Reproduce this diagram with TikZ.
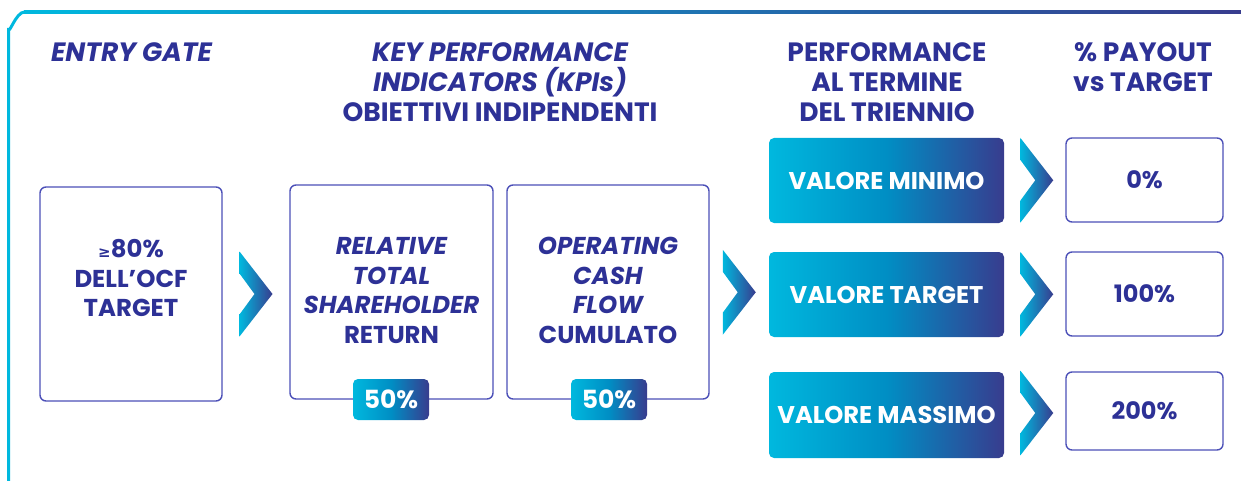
\documentclass[tikz,border=0pt]{standalone}
\usepackage{fontspec}
\setmainfont{Poppins}[UprightFont={* Bold}, ItalicFont={* Bold Italic}]
\newfontfamily\symf{DejaVu Sans}[UprightFont={* Bold}]
\usetikzlibrary{calc}
\definecolor{txt}{RGB}{45,49,150}
\definecolor{cyanF}{RGB}{0,184,222}
\definecolor{midF}{RGB}{0,142,196}
\definecolor{darkF}{RGB}{56,60,142}
\definecolor{brd}{RGB}{76,80,184}
\tikzset{
  box/.style={draw=brd, line width=1.4pt, rounded corners=6pt, fill=white, inner sep=0pt},
  gbox/.style={rounded corners=5pt, left color=cyanF, right color=darkF, middle color=midF,
               inner sep=0pt, text=white, font=\fontsize{24.2}{29}\selectfont},
  badge/.style={rounded corners=5pt, left color=cyanF, right color=darkF, middle color=midF,
               inner sep=0pt, text=white, font=\fontsize{25}{29}\selectfont,
               minimum width=76pt, minimum height=41pt},
  hdr/.style={text=txt, align=center, font=\fontsize{26.5}{30}\selectfont},
  btxt/.style={text=txt, align=center, font=\fontsize{24.4}{29.5}\selectfont},
  chevshade/.style={left color=cyanF, right color=darkF},
}
\newcommand\chevat[1]{%
  \begin{scope}[shift={#1}]
    \shade[chevshade] (-16.5,-42.5) -- ++(33,42.5) -- ++(-33,42.5) -- ++(0,-22)
      -- ++(15,-20.5) -- ++(-15,-20.5) -- cycle;
  \end{scope}}
\begin{document}
\begin{tikzpicture}[x=1pt, y=-1pt]
\useasboundingbox (0,0) rectangle (1241,481);
% outer frame
\draw[cyanF, line width=3pt] (8.5,484) -- (8.5,28) to[out=-90, in=180] (24.5,12);
\shade[left color=cyanF, right color=darkF] (24,10.5) rectangle (1241,13.5);
% headers
\node[hdr] (h1) at (131.5,52) {\itshape ENTRY GATE};
\node[hdr] (h2) at (500,82) {\itshape KEY PERFORMANCE\\\itshape INDICATORS (KPIs)\\OBIETTIVI INDIPENDENTI};
\node[hdr] (h3) at (887,82) {PERFORMANCE\\AL TERMINE\\DEL TRIENNIO};
\node[hdr] (h4) at (1143,67) {\% PAYOUT\\vs TARGET};
% left boxes
\node[box, minimum width=182pt, minimum height=214pt] (entry) at (131,294) {};
\node[btxt] (entryt) at (131,278) {{\symf\fontsize{15}{15}\selectfont ≥}80\%\\DELL’OCF\\TARGET};
\node[box, minimum width=203pt, minimum height=214pt] (rtsr) at (391.5,292) {};
\node[btxt] (rtsrt) at (391.5,290.5) {\itshape RELATIVE\\\itshape TOTAL\\\itshape SHAREHOLDER\\RETURN};
\node[box, minimum width=202pt, minimum height=214pt] (ocf) at (608,292) {};
\node[btxt] (ocft) at (608,290.5) {\itshape OPERATING\\\itshape CASH\\\itshape FLOW\\CUMULATO};
\node[badge] (b1) at (391,399.5) {50\%};
\node[badge] (b2) at (609,399.5) {50\%};
% performance boxes
\node[gbox, minimum width=235pt, minimum height=85pt] (vmin) at (886.5,180.5) {VALORE MINIMO};
\node[gbox, minimum width=235pt, minimum height=85pt] (vtar) at (886.5,294.5) {VALORE TARGET};
\node[gbox, minimum width=235pt, minimum height=86pt] (vmax) at (886.5,415) {VALORE MASSIMO};
% payout boxes
\node[box, minimum width=157pt, minimum height=84pt, text=txt, font=\fontsize{24}{29}\selectfont] (p0) at (1144.5,180) {0\%};
\node[box, minimum width=157pt, minimum height=84pt, text=txt, font=\fontsize{24}{29}\selectfont] (p100) at (1144.5,294) {100\%};
\node[box, minimum width=157pt, minimum height=78pt, text=txt, font=\fontsize{24}{29}\selectfont] (p200) at (1144.5,411) {200\%};
% chevrons
\chevat{($(entry.east)!0.5!(rtsr.west)+(0,1)$)}
\chevat{($(ocf.east)!0.5!(vtar.west)+(0,-1)$)}
\chevat{($(vmin.east)!0.5!(p0.west)+(2,0)$)}
\chevat{($(vtar.east)!0.5!(p100.west)+(2,0)$)}
\chevat{($(vmax.east)!0.5!(p200.west)+(2,0)$)}
\end{tikzpicture}
\end{document}
